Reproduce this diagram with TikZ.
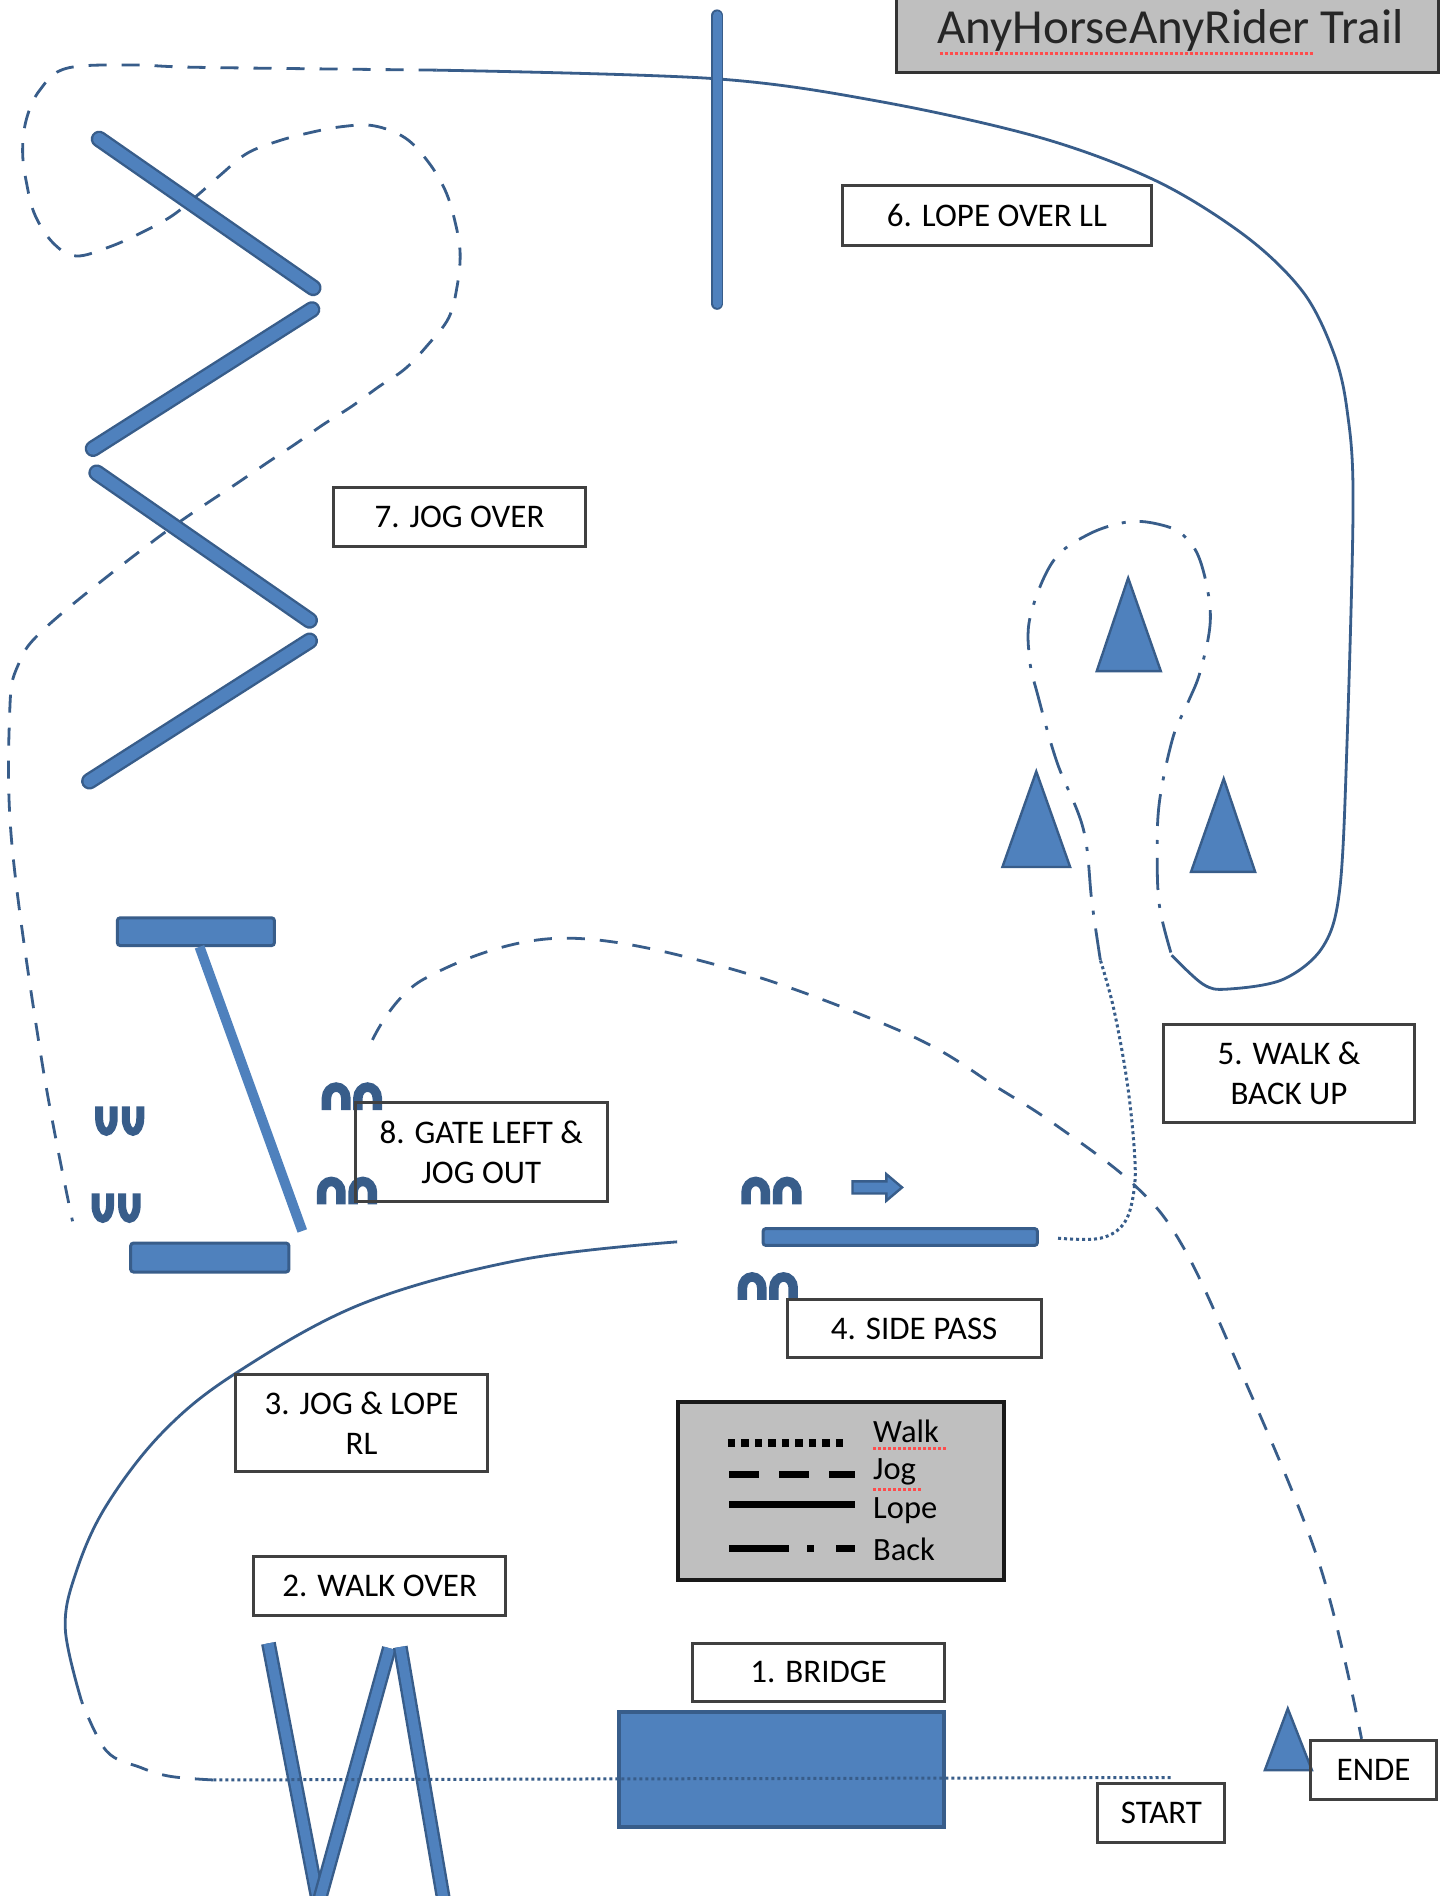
\documentclass[tikz,border=0pt]{standalone}
\usepackage{fontspec}
\setmainfont{Carlito}
\usetikzlibrary{arrows.meta}
\definecolor{fillb}{HTML}{4F81BD}
\definecolor{lineb}{HTML}{385D8A}
\definecolor{grayb}{HTML}{BFBFBF}
\tikzset{
  lbl/.style={draw=black!75,line width=3pt,align=center,inner sep=0pt,font=\fontsize{33}{40}\selectfont,text=black},
  sz/.style 2 args={minimum width=#1*1.209pt,minimum height=#2*1.209pt},
  lope/.style={draw=lineb,line width=2.8pt},
  jog/.style={draw=lineb,line width=2.8pt,dash pattern=on 18pt off 15pt},
  walk/.style={draw=lineb,line width=3pt,dash pattern=on 3pt off 3pt},
  back/.style={draw=lineb,line width=2.8pt,dash pattern=on 32pt off 14pt on 4pt off 14pt},
  pole/.style={draw=lineb,line width=2.4pt,double=fillb,double distance=12pt,line cap=round},
  thinpole/.style={draw=lineb,line width=1.8pt,double=fillb,double distance=9pt,line cap=round},
  wpole/.style={draw=lineb,line width=2.4pt,double=fillb,double distance=10pt},
  solidbar/.style={fill=fillb,draw=lineb,line width=3pt,rounded corners=3pt},
  tri/.style={fill=fillb,draw=lineb,line width=2.4pt},
  shoe/.style={draw=lineb,line width=9.5pt},
  shoedown/.style={draw=lineb,line width=8pt},
  leg/.style={draw=black,line width=7pt},
  legt/.style={inner sep=0pt,anchor=west,font=\fontsize{32.5}{34}\selectfont,text=black},
  spell/.style={draw=red!70,line width=3pt,dash pattern=on 3pt off 2pt},
}
\newcommand{\shoeup}[2]{\draw[shoe] (#1,#2) -- ++(0,-10) arc[start angle=180,end angle=360,x radius=8,y radius=9] -- ++(0,10);}
\newcommand{\shoedn}[2]{\draw[shoedown] (#1,#2) -- ++(0,10) arc[start angle=180,end angle=0,x radius=6,y radius=11] -- ++(0,-10);}
\begin{document}
\begin{tikzpicture}[x=1.209pt,y=-1.209pt]
\useasboundingbox (0,0) rectangle (1196,1568);
\fill[white] (0,0) rectangle (1196,1568);
\clip (0,0) rectangle (1196,1568);

% route
\coordinate (pStart) at (968,1470);
\coordinate (pA) at (176,1472);
\coordinate (pB) at (67.5,1407);
\coordinate (pC) at (560,1027);
\coordinate (pD) at (875,1024);
\coordinate (pE) at (910,794);
\coordinate (pF) at (969,790);
\coordinate (pG) at (361,58);
\coordinate (pH) at (60,1010);
\coordinate (pI) at (308,860);
\coordinate (pJ) at (1126,1438);
\draw[jog] plot[smooth,tension=0.6] coordinates {(pA) (140.6,1469) (116,1461.6) (88,1448) (pB)};
\draw[lope] plot[smooth,tension=0.6] coordinates {(pB) (54,1347) (63,1300) (88,1245) (135,1184) (196,1135) (300,1078) (430,1042) (pC)};
\draw[back] plot[smooth,tension=0.6] coordinates {(pE) (903,746) (896,686) (874,630) (858,574) (851.6,546) (852,510) (871,464) (900,442) (933,431.6) (960,434) (979,443) (993,465) (1001,510) (993,554) (982,582) (970,610) (959,662) (957,706) (959,750) (pF)};
\draw[lope] plot[smooth,tension=0.55] coordinates {(pF) (995,814) (1015,818) (1061,810) (1094,783) (1108,735) (1114,614) (1119,414) (1114,339) (1103,292) (1078,242) (1031,196) (957,150) (861,114) (728,84) (590,65) (pG)};
\draw[jog] plot[smooth,tension=0.6] coordinates {(pG) (165,55.7) (110,53.7) (55,56.5) (33,74.4) (22,98) (18.7,125) (22,151.6) (29,178) (44,201) (63,211.7) (91,204) (118.6,191.6) (143,178) (165,160) (182,145) (204,127) (229,117) (255,110) (283,104.7) (309,104) (335,114) (354,133.7) (368,157) (376,182) (380.5,209) (378,237) (371,263) (354,285) (335,305) (313,320) (291,336) (267.5,351) (245,366.7) (222,382) (200,397) (130,445) (40,517) (15,550) (8,590) (10,700) (35,880) (pH)};
\draw[jog] plot[smooth,tension=0.6] coordinates {(pI) (350,810) (460,776) (600,800) (750,855) (827,900.7) (874,931) (937,979) (976,1027) (1020,1120) (1090,1290) (pJ)};

% obstacles
\draw[pole] (82,115) -- (259,238);
\draw[pole] (258,256) -- (77,371);
\draw[pole] (80,391) -- (256,513);
\draw[pole] (256,530) -- (74,646);
\draw[thinpole] (593,13) -- (593,251);
\draw[solidbar] (97,759) rectangle (227,782);
\draw[solidbar] (108,1028) rectangle (239,1052);
\draw[draw=fillb,line width=10pt] (165,783) -- (250,1018);
\draw[solidbar] (631,1016) rectangle (858,1030);
\draw[tri] (933,478) -- (960,555) -- (907,555) -- cycle;
\draw[tri] (857,638) -- (885,717) -- (829,717) -- cycle;
\draw[tri] (1012,644) -- (1038,721) -- (985,721) -- cycle;
\draw[tri] (1065,1413) -- (1085,1464) -- (1046,1464) -- cycle;
\draw[fill=fillb,draw=lineb,line width=4pt] (512,1416) rectangle (781,1511);
\draw[wpole] (222,1359) -- (263,1572);
\draw[wpole] (264,1572) -- (322,1363);
\draw[wpole] (331,1362) -- (367,1572);
\draw[fill=fillb,draw=lineb,line width=2.4pt] (705,977) -- (733,977) -- (733,971) -- (746,982) -- (733,993) -- (733,987) -- (705,987) -- cycle;
\draw[walk] (pStart) -- (pA);
\draw[walk] plot[smooth,tension=0.6] coordinates {(pD) (910,1024) (930,1011) (938,983) (938,950) (932,894) (921,834) (pE)};

% horseshoes
\shoeup{270}{918}\shoeup{296}{918}
\shoeup{266}{996}\shoeup{292}{996}
\shoeup{617}{996}\shoeup{643}{996}
\shoeup{614}{1075}\shoeup{640}{1075}
\shoedn{82}{915}\shoedn{104}{915}
\shoedn{79}{987}\shoedn{101}{987}

% labels
\node[lbl,sz={255}{50}] (n6) at (824.5,178) {6. LOPE OVER LL};
\node[lbl,sz={208}{49}] (n7) at (380,427.5) {7. JOG OVER};
\node[lbl,sz={208}{81}] (n5) at (1066,887.5) {5. WALK \&\\BACK UP};
\node[lbl,sz={208}{82}] (n8) at (398,953) {8. GATE LEFT \&\\JOG OUT};
\node[lbl,sz={210}{48}] (n4) at (756,1099) {4. SIDE PASS};
\node[lbl,sz={208}{80}] (n3) at (299,1177) {3. JOG \& LOPE\\RL};
\node[lbl,sz={208}{49}] (n2) at (314,1311.5) {2. WALK OVER};
\node[lbl,sz={208}{48}] (n1) at (677,1383) {1. BRIDGE};
\node[lbl,sz={105}{49}] (nS) at (960.5,1499.5) {START};
\node[lbl,sz={104}{49}] (nE) at (1136,1463.5) {ENDE};

% title
\node[draw=black!80,line width=3pt,fill=grayb,sz={449}{70},inner sep=0pt,font=\fontsize{49}{54}\selectfont,text=black!85] (title) at (965.5,25) {\hspace{6pt}AnyHorseAnyRider Trail};
\draw[spell] (777,44) -- (1086,44);

% legend
\node[draw=black!90,line width=4.5pt,fill=grayb,sz={270}{147},inner sep=0pt] (legend) at (695.5,1233) {};
\coordinate (w1) at (602,1193); \coordinate (w2) at (702,1193);
\coordinate (j1) at (603,1219); \coordinate (j2) at (707,1219);
\coordinate (l1) at (603,1244); \coordinate (l2) at (707,1244);
\coordinate (b1) at (603,1281); \coordinate (b2) at (707,1281);
\draw[leg,line width=8pt,dash pattern=on 7.5pt off 6pt] (w1) -- (w2);
\draw[leg,dash pattern=on 30pt off 20pt] (j1) -- (j2);
\draw[leg] (l1) -- (l2);
\draw[leg,dash pattern=on 60pt off 18pt on 7pt off 22pt on 18pt off 0pt] (b1) -- (b2);
\node[legt] (tw) at (722,1184) {Walk};
\node[legt] (tj) at (722,1217) {Jog};
\node[legt] (tl) at (722,1249) {Lope};
\node[legt] (tb) at (722,1281) {Back};
\draw[spell] (722,1198) -- (784,1198);
\draw[spell] (722,1232) -- (762,1232);
\end{tikzpicture}
\end{document}
